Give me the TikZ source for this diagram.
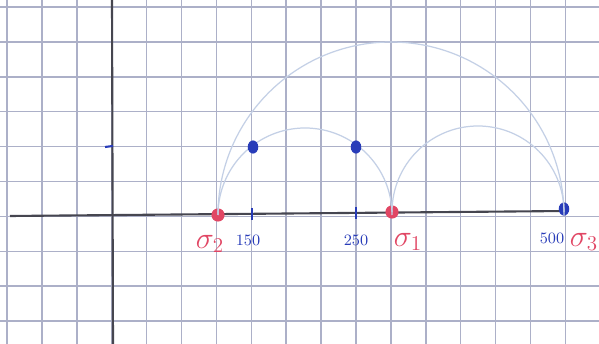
\documentclass[tikz,border=0pt]{standalone}
\usepackage{amsmath, amssymb}
\usepackage{xcolor}
\usepackage{tikz}
\usetikzlibrary{positioning, calc, shapes.geometric}
\definecolor{gridBlue}{RGB}{172, 176, 200}
\definecolor{axisGray}{RGB}{70, 70, 80}
\definecolor{arcBlue}{RGB}{196, 208, 230}
\definecolor{inkBlue}{RGB}{40, 60, 185}
\definecolor{inkRed}{RGB}{225, 70, 100}
\tikzset{
  gridline/.style={gridBlue, line width=0.9pt},
  axisline/.style={axisGray, line width=1.2pt},
  arcline/.style={arcBlue, line width=0.7pt},
  reddot/.style={circle, fill=inkRed, inner sep=0pt, minimum size=7.5pt},
  bluedot/.style={ellipse, fill=inkBlue, inner sep=0pt, minimum width=6pt, minimum height=7.5pt},
  tickmark/.style={inkBlue, line width=1.2pt},
  numlabel/.style={font=\small, color=inkBlue},
  siglabel/.style={font=\LARGE, color=inkRed}
}

\begin{document}
\begin{tikzpicture}[x=0.02cm, y=-0.02cm]

  \useasboundingbox (0,0) rectangle (599,344);
  \fill[white] (0,0) rectangle (599,344);

  % ── Squared paper ─────────────────────────────────────────────────────────
  \foreach \k in {0,...,16}{
    \draw[gridline] ({7+\k*34.9},0) -- ({7+\k*34.9},344);
  }
  \foreach \k in {0,...,9}{
    \draw[gridline] (0,{7+\k*34.9}) -- (599,{7+\k*34.9});
  }

  % ── Axes ──────────────────────────────────────────────────────────────────
  \draw[axisline] (10,216) -- (566,211);
  \draw[axisline] (112,0) -- (113,344);
  \draw[tickmark] (105,147) -- (113,146);

  % ── Points on the axis ────────────────────────────────────────────────────
  \node[reddot] (s2) at (218,215) {};
  \node[reddot] (s1) at (392,212) {};
  \node[bluedot] (s3) at (564,209) {};
  \coordinate (t150) at (252,214);
  \coordinate (t250) at (356,213);
  \draw[tickmark] ($(t150)+(0,-6)$) -- ($(t150)+(0,6)$);
  \draw[tickmark] ($(t250)+(0,-6)$) -- ($(t250)+(0,6)$);

  % ── Circles (y runs downwards, so the upper halves go 180 -> 360) ─────────
  \draw[arcline] (s2.center) arc (180:360:87);
  \draw[arcline] (s1.center) arc (180:360:86);
  \draw[arcline] (s2.center) arc (180:360:173);

  % ── Points on the small circle ────────────────────────────────────────────
  \node[bluedot] (p1) at (253,147) {};
  \node[bluedot] (p2) at (356,147) {};

  % ── Labels ────────────────────────────────────────────────────────────────
  \node[siglabel] (l2) at (210,244) {$\sigma_2$};
  \node[numlabel] (n150) at (248,240) {150};
  \node[numlabel] (n250) at (356,240) {250};
  \node[siglabel] (l1) at (408,242) {$\sigma_1$};
  \node[numlabel] (n500) at (552,238) {500};
  \node[siglabel] (l3) at (584,242) {$\sigma_3$};

\end{tikzpicture}
\end{document}
